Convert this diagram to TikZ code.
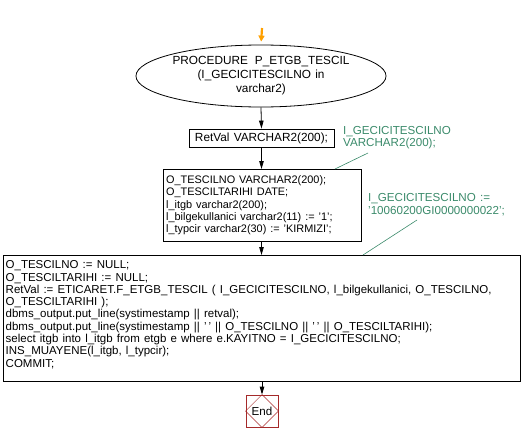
\documentclass[tikz,border=0pt]{standalone}
\usepackage{fontspec}
\setmainfont[WordSpace=1.3]{Liberation Sans}
\usetikzlibrary{shapes.geometric,arrows.meta}
\newcommand\sq{\symbol{39}}
\definecolor{cmt}{RGB}{58,138,106}
\definecolor{endred}{RGB}{165,42,42}
\definecolor{startor}{RGB}{255,160,0}
\begin{document}
\begin{tikzpicture}[x=1pt,y=-1pt,
  flow/.style={draw=black,line width=0.8pt,-{Triangle[length=8pt,width=4.5pt]}},
  frame/.style={draw=black,line width=0.8pt,rectangle,inner sep=0pt},
  code/.style={align=left,inner sep=0pt,anchor=north west},
  cmttext/.style={text=cmt,align=left,inner sep=0pt,anchor=north west,font=\fontsize{11.6}{12.5}\selectfont},
  cmtline/.style={draw=cmt,line width=0.6pt}]
\useasboundingbox (0,0) rectangle (525,442);
\node[draw,ellipse,line width=0.8pt,minimum width=206pt,minimum height=62pt,inner sep=0pt,align=center,
  font=\fontsize{11.8}{14}\selectfont] (proc) at (261,76)
  {PROCEDURE\hspace{7pt}P\_ETGB\_TESCIL\\(I\_GECICITESCILNO in\\varchar2)};
\coordinate (start) at (262,28);
\node[frame,minimum width=145pt,minimum height=18pt,font=\fontsize{11.8}{12.5}\selectfont] (retval) at (261.5,138) {RetVal VARCHAR2(200);};
\node[frame,minimum width=198pt,minimum height=72pt,anchor=north west] (decl) at (163,169) {};
\node[code,font=\fontsize{10.9}{12.3}\selectfont] (decltxt) at (166,175.5)
  {O\_TESCILNO VARCHAR2(200);\\O\_TESCILTARIHI DATE;\\l\_itgb varchar2(200);\\l\_bilgekullanici varchar2(11) := \sq1\sq;\\l\_typcir varchar2(30) := \sq KIRMIZI\sq;};
\node[frame,minimum width=517pt,minimum height=126pt,anchor=north west] (body) at (3,255) {};
\node[code,font=\fontsize{11.5}{12.3}\selectfont] (bodytxt) at (5.5,260.5)
  {O\_TESCILNO := NULL;\\
   O\_TESCILTARIHI := NULL;\\
   RetVal := ETICARET.F\_ETGB\_TESCIL ( I\_GECICITESCILNO, l\_bilgekullanici, O\_TESCILNO,\\
   O\_TESCILTARIHI );\\
   dbms\_output.put\_line(systimestamp || retval);\\
   dbms\_output.put\_line(systimestamp || \sq\,\sq\ || O\_TESCILNO || \sq\,\sq\ || O\_TESCILTARIHI);\\
   select itgb into l\_itgb from etgb e where e.KAYITNO = I\_GECICITESCILNO;\\
   INS\_MUAYENE(l\_itgb, l\_typcir);\\
   COMMIT;};
\node[draw=endred,line width=0.8pt,minimum width=32pt,minimum height=32pt,inner sep=0pt] (endbox) at (262,411) {};
\draw[endred,line width=0.5pt] (endbox.north) -- (endbox.east) -- (endbox.south) -- (endbox.west) -- cycle;
\node[inner sep=0pt,font=\fontsize{11.6}{13}\selectfont] (endtxt) at (endbox.center) {End};
\node[cmttext] (c1) at (343,126) {I\_GECICITESCILNO\\VARCHAR2(200);};
\node[cmttext] (c2) at (368,193.5) {I\_GECICITESCILNO :=\\\sq10060200GI0000000022\sq;};
\coordinate (c1end) at (368,153);
\coordinate (c2end) at (417,220);
\draw[startor,line width=2.2pt,-{Triangle[length=6pt,width=6pt]},shorten >=3pt] (start) -- (proc.north);
\draw[flow] (proc.south) -- (retval.north);
\draw[flow] (retval.south) -- (retval.south |- decl.north);
\draw[flow] (retval.south |- decl.south) -- (retval.south |- body.north);
\draw[flow] (endbox.north |- body.south) -- (endbox.north);
\draw[cmtline] (c1end) -- (335,169);
\draw[cmtline] (c2end) -- (363,255);
\end{tikzpicture}
\end{document}
